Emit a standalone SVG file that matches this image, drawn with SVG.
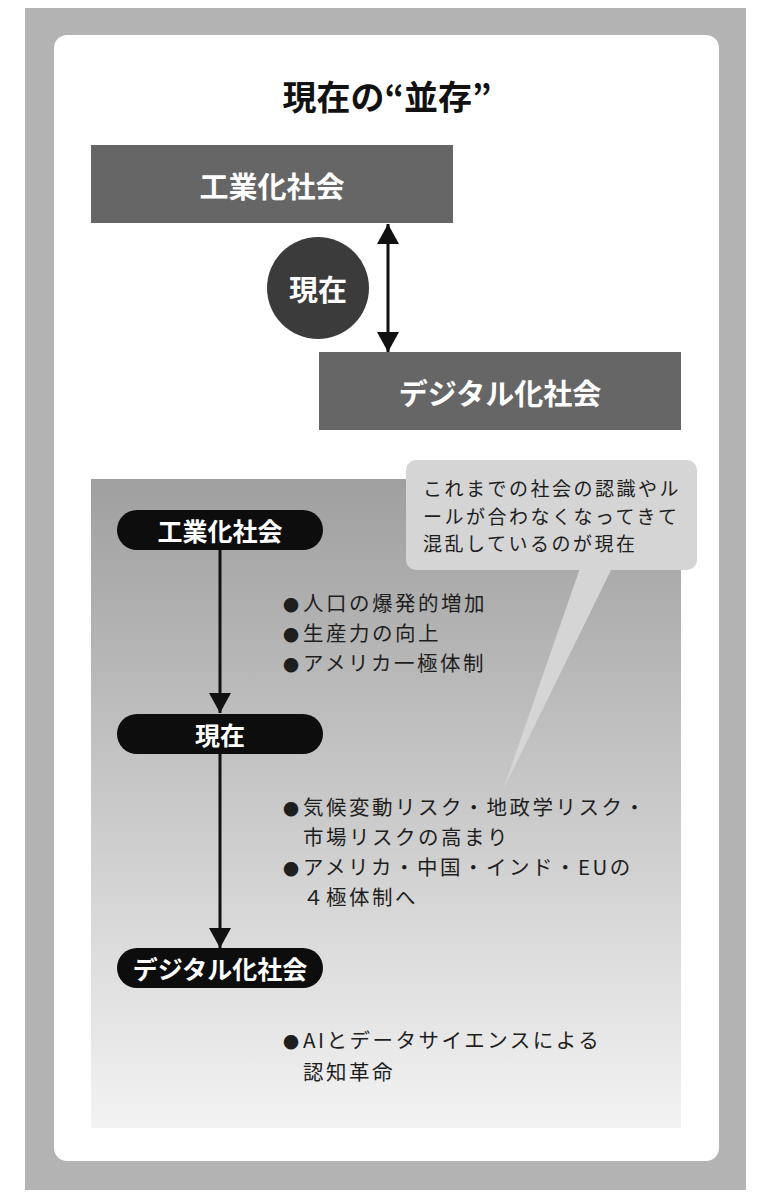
<svg xmlns="http://www.w3.org/2000/svg" width="763" height="1200" viewBox="0 0 763 1200">
<style>
text{font-family:"Noto Sans CJK JP","Noto Sans CJK SC",sans-serif}
.wb{fill:#fff;font-weight:bold;text-anchor:middle;dominant-baseline:central}
.bl{fill:#1e1e1e;font-size:20.5px;letter-spacing:2.5px}
.dot{font-size:16px;letter-spacing:0}
.bb{fill:#1e1e1e;font-size:19px;letter-spacing:2.5px}
.pill{fill:#0d0d0d}
.box{fill:#666}
.ln{stroke:#111;stroke-width:3;fill:none}
</style>
<defs>
<linearGradient id="pg" x1="0" y1="0" x2="0" y2="1">
<stop offset="0" stop-color="#9f9f9f"/>
<stop offset="1" stop-color="#f3f3f3"/>
</linearGradient>
<marker id="ah" viewBox="0 0 20 22" refX="20" refY="11" markerWidth="20" markerHeight="22" markerUnits="userSpaceOnUse" orient="auto-start-reverse">
<path d="M0,0 L20,11 L0,22 Z" fill="#111"/>
</marker>
</defs>
<rect x="0" y="0" width="763" height="1200" fill="#fff"/>
<rect x="25" y="8" width="721" height="1182" fill="#b3b3b3"/>
<rect x="54" y="35" width="665" height="1126" rx="13" fill="#fff"/>
<text x="387" y="95" class="wb" style="fill:#111;font-size:34px">現在の“並存”</text>

<g id="top-industrial">
<rect x="91" y="145" width="362" height="78" class="box"/>
<text x="272" y="185" class="wb" font-size="29">工業化社会</text>
</g>
<g id="top-now">
<ellipse cx="318" cy="288" rx="51" ry="51" fill="#3b3b3b"/>
<text x="318" y="288" class="wb" font-size="29">現在</text>
</g>
<g id="top-digital">
<rect x="319" y="352" width="362" height="78" class="box"/>
<text x="500" y="392" class="wb" font-size="29">デジタル化社会</text>
</g>

<rect id="panel" x="91" y="479" width="590" height="649" fill="url(#pg)"/>

<g id="bubble">
<path d="M580,568 L503,790 L612,568 Z" fill="#d5d5d5"/>
<rect x="406" y="460" width="291" height="110" rx="10" fill="#d5d5d5"/>
<text class="bb" x="423" y="496">これまでの社会の認識やル</text>
<text class="bb" x="423" y="523.5">ールが合わなくなってきて</text>
<text class="bb" x="423" y="551">混乱しているのが現在</text>
</g>

<g id="connectors">
<line x1="388" y1="224" x2="388" y2="352" class="ln" marker-start="url(#ah)" marker-end="url(#ah)"/>
<line x1="220" y1="550" x2="220" y2="713" class="ln" marker-end="url(#ah)"/>
<line x1="220" y1="754" x2="220" y2="948" class="ln" marker-end="url(#ah)"/>
</g>

<g id="pill-industrial">
<rect x="117" y="510" width="206" height="40" rx="20" class="pill"/>
<text x="220" y="530" class="wb" font-size="25">工業化社会</text>
</g>
<g id="pill-now">
<rect x="117" y="714" width="206" height="40" rx="20" class="pill"/>
<text x="220" y="734" class="wb" font-size="25">現在</text>
</g>
<g id="pill-digital">
<rect x="117" y="948" width="206" height="40" rx="20" class="pill"/>
<text x="220" y="968" class="wb" font-size="25">デジタル化社会</text>
</g>

<g id="notes1">
<text class="bl" y="611"><tspan class="dot" x="283">●</tspan><tspan x="303">人口の爆発的増加</tspan></text>
<text class="bl" y="641"><tspan class="dot" x="283">●</tspan><tspan x="303">生産力の向上</tspan></text>
<text class="bl" y="671"><tspan class="dot" x="283">●</tspan><tspan x="303">アメリカ一極体制</tspan></text>
</g>
<g id="notes2">
<text class="bl" y="815"><tspan class="dot" x="283">●</tspan><tspan x="303">気候変動リスク・地政学リスク・</tspan></text>
<text class="bl" x="303" y="845">市場リスクの高まり</text>
<text class="bl" y="875"><tspan class="dot" x="283">●</tspan><tspan x="303">アメリカ・中国・インド・EUの</tspan></text>
<text class="bl" x="303" y="905">４極体制へ</text>
</g>
<g id="notes3">
<text class="bl" y="1048"><tspan class="dot" x="283">●</tspan><tspan x="303">AIとデータサイエンスによる</tspan></text>
<text class="bl" x="303" y="1080">認知革命</text>
</g>
</svg>
